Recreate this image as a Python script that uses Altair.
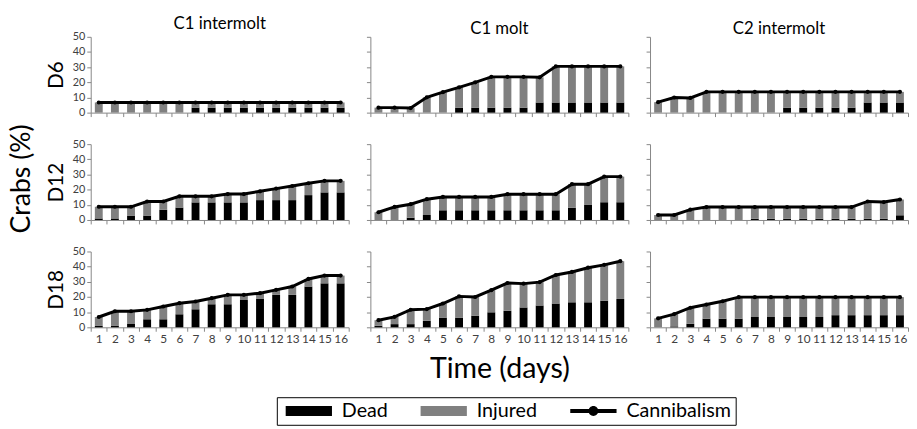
import altair as alt
import pandas as pd

days = list(range(1, 17))
row_labels = ["D6", "D12", "D18"]
col_labels = ["C1 intermolt", "C1 molt", "C2 intermolt"]
series_names = ["Dead", "Injured", "Cannibalism"]
y_ticks = [0, 10, 20, 30, 40, 50]

# ---- D6 ----
d6_c1i_dead = [0, 0, 0, 0, 0, 0, 3.3, 3.3, 3.3, 3.3, 3.3, 3.3, 3.3, 3.3, 3.3, 3.3]
d6_c1i_inj = [6.7, 6.7, 6.7, 6.7, 6.7, 6.7, 3.4, 3.4, 3.4, 3.4, 3.4, 3.4, 3.4, 3.4, 3.4, 3.4]
d6_c1i_can = [6.7, 6.7, 6.7, 6.7, 6.7, 6.7, 6.7, 6.7, 6.7, 6.7, 6.7, 6.7, 6.7, 6.7, 6.7, 6.7]

d6_c1m_dead = [0, 0, 0, 0, 0, 3.3, 3.3, 3.3, 3.3, 3.3, 6.7, 6.7, 6.7, 6.7, 6.7, 6.7]
d6_c1m_inj = [3.3, 3.3, 3.0, 10.1, 13.5, 13.4, 16.7, 20.3, 20.3, 20.3, 16.6, 23.8, 23.8, 23.8, 23.8, 23.8]
d6_c1m_can = [3.3, 3.3, 3.0, 10.1, 13.5, 16.7, 20.0, 23.6, 23.6, 23.6, 23.3, 30.5, 30.5, 30.5, 30.5, 30.5]

d6_c2i_dead = [0, 0, 0, 0, 0, 0, 0, 0, 3.3, 3.3, 3.3, 3.3, 3.3, 6.7, 6.7, 6.7]
d6_c2i_inj = [6.9, 10.0, 9.7, 13.7, 13.7, 13.7, 13.7, 13.7, 10.4, 10.4, 10.4, 10.4, 10.4, 7.0, 7.0, 7.0]
d6_c2i_can = [6.9, 10.0, 9.7, 13.7, 13.7, 13.7, 13.7, 13.7, 13.7, 13.7, 13.7, 13.7, 13.7, 13.7, 13.7, 13.7]

# ---- D12 ----
d12_c1i_dead = [1.0, 1.0, 2.9, 2.9, 6.7, 8.2, 11.6, 11.6, 11.6, 11.6, 13.1, 13.1, 13.1, 16.4, 18.2, 18.2]
d12_c1i_inj = [7.7, 7.7, 5.8, 9.3, 5.5, 7.4, 4.0, 4.0, 5.5, 5.5, 5.8, 7.6, 9.3, 7.8, 7.6, 7.6]
d12_c1i_can = [8.7, 8.7, 8.7, 12.2, 12.2, 15.6, 15.6, 15.6, 17.1, 17.1, 18.9, 20.7, 22.4, 24.2, 25.8, 25.8]

d12_c1m_dead = [0, 0, 1.5, 3.3, 6.4, 6.4, 6.4, 6.4, 6.4, 6.4, 6.4, 6.4, 8.1, 9.9, 11.7, 11.7]
d12_c1m_inj = [5.1, 8.6, 8.9, 10.4, 8.8, 8.8, 8.8, 8.8, 10.6, 10.6, 10.6, 10.6, 15.5, 13.7, 16.9, 16.9]
d12_c1m_can = [5.1, 8.6, 10.4, 13.7, 15.2, 15.2, 15.2, 15.2, 17.0, 17.0, 17.0, 17.0, 23.6, 23.6, 28.6, 28.6]

d12_c2i_dead = [0, 0, 0, 0, 0, 0, 0.8, 0.8, 0.8, 0.8, 0.8, 0.8, 0.8, 0.8, 0.8, 3.1]
d12_c2i_inj = [3.3, 3.3, 6.8, 8.5, 8.5, 8.5, 7.7, 7.7, 7.7, 7.7, 7.7, 7.7, 7.7, 11.4, 11.0, 10.4]
d12_c2i_can = [3.3, 3.3, 6.8, 8.5, 8.5, 8.5, 8.5, 8.5, 8.5, 8.5, 8.5, 8.5, 8.5, 12.2, 11.8, 13.5]

# ---- D18 ----
d18_c1i_dead = [0.9, 0.9, 2.2, 5.3, 5.3, 8.6, 11.9, 15.2, 15.2, 18.0, 18.7, 21.4, 21.4, 26.9, 29.0, 29.0]
d18_c1i_inj = [5.9, 9.7, 8.4, 6.2, 8.4, 7.3, 5.1, 4.0, 6.2, 3.4, 3.8, 3.3, 5.5, 5.0, 5.1, 5.1]
d18_c1i_can = [6.8, 10.6, 10.6, 11.5, 13.7, 15.9, 17.0, 19.2, 21.4, 21.4, 22.5, 24.7, 26.9, 31.9, 34.1, 34.1]

d18_c1m_dead = [1.0, 2.1, 2.1, 4.3, 6.4, 6.4, 7.7, 9.9, 10.9, 13.1, 14.4, 15.7, 16.5, 16.5, 17.6, 18.7]
d18_c1m_inj = [3.7, 4.8, 9.5, 7.7, 9.3, 14.0, 12.3, 14.6, 18.3, 15.7, 15.4, 18.8, 20.0, 22.8, 23.6, 24.9]
d18_c1m_can = [4.7, 6.9, 11.6, 12.0, 15.7, 20.4, 20.0, 24.5, 29.2, 28.8, 29.8, 34.5, 36.5, 39.3, 41.2, 43.6]

d18_c2i_dead = [0, 0.6, 2.3, 5.7, 5.7, 5.7, 6.8, 6.8, 6.8, 6.8, 6.8, 8.0, 8.0, 8.0, 8.0, 8.0]
d18_c2i_inj = [5.9, 8.1, 10.6, 9.3, 11.5, 14.2, 13.1, 13.1, 13.1, 13.1, 13.1, 11.9, 11.9, 11.9, 11.9, 11.9]
d18_c2i_can = [5.9, 8.7, 12.9, 15.0, 17.2, 19.9, 19.9, 19.9, 19.9, 19.9, 19.9, 19.9, 19.9, 19.9, 19.9, 19.9]

panels = {
    ("D6", "C1 intermolt"): (d6_c1i_dead, d6_c1i_inj, d6_c1i_can),
    ("D6", "C1 molt"): (d6_c1m_dead, d6_c1m_inj, d6_c1m_can),
    ("D6", "C2 intermolt"): (d6_c2i_dead, d6_c2i_inj, d6_c2i_can),
    ("D12", "C1 intermolt"): (d12_c1i_dead, d12_c1i_inj, d12_c1i_can),
    ("D12", "C1 molt"): (d12_c1m_dead, d12_c1m_inj, d12_c1m_can),
    ("D12", "C2 intermolt"): (d12_c2i_dead, d12_c2i_inj, d12_c2i_can),
    ("D18", "C1 intermolt"): (d18_c1i_dead, d18_c1i_inj, d18_c1i_can),
    ("D18", "C1 molt"): (d18_c1m_dead, d18_c1m_inj, d18_c1m_can),
    ("D18", "C2 intermolt"): (d18_c2i_dead, d18_c2i_inj, d18_c2i_can),
}

records = []
for (r, c), (dead, inj, can) in panels.items():
    for i, d in enumerate(days):
        records.append({"row": r, "col": c, "day": d,
                        "Dead": dead[i], "Injured": inj[i], "Cannibalism": can[i]})
df = pd.DataFrame(records)

FONT = "Lato"
color_scale = alt.Scale(domain=series_names, range=["#000000", "#808080", "#000000"])
# legend glyphs: wide swatch / thick line with a dot (units of 5 px)
rect_path = "M-1,-1H8.4V1H-1Z"
line_path = ("M-1,-0.4H8.4V0.4H-1Z "
             "M4.7,0A1,1 0 1,1 2.7,0A1,1 0 1,1 4.7,0Z")
shape_scale = alt.Scale(domain=series_names, range=[rect_path, rect_path, line_path])

legend_def = alt.Legend(
    title=None, orient="none", legendX=189, legendY=366, direction="horizontal",
    strokeColor="black", padding=4, symbolSize=100,
    symbolStrokeWidth=0, labelFontSize=20, labelFont=FONT, labelColor="black",
    labelOffset=42, columnPadding=28, symbolOpacity=1,
)

W, H = 262, 77


def panel(r, c, first_col, last_row, top_row, with_legend=False, xtitle=None):
    base = alt.Chart(df).transform_filter(
        (alt.datum.row == r) & (alt.datum.col == c))
    x_axis = alt.Axis(labels=last_row, labelAngle=0, tickBand="extent",
                      labelFontSize=12, title=xtitle, titleFontSize=29,
                      titleFontWeight="normal", titleFont=FONT, titleColor="black",
                      titlePadding=11)
    y_axis = alt.Axis(labels=first_col, values=y_ticks,
                      title=r if first_col else None, titleFontSize=21,
                      titleFontWeight="normal", titleFont=FONT, titleColor="black",
                      titlePadding=6, labelFontSize=11)
    xs = alt.Scale(domain=days, paddingInner=0, paddingOuter=0)
    ys = alt.Scale(domain=[0, 50])
    x = alt.X("day:O", scale=xs, axis=x_axis)

    bars = base.transform_fold(["Dead", "Injured"], as_=["series", "value"]).transform_calculate(
        ord="datum.series == 'Dead' ? 0 : 1"
    ).mark_bar(size=8).encode(
        x=x,
        y=alt.Y("value:Q", stack="zero", scale=ys, axis=y_axis),
        color=alt.Color("series:N", scale=color_scale, legend=legend_def),
        order=alt.Order("ord:Q"),
    )
    line = base.mark_line(color="black", strokeWidth=3).encode(
        x=x, y=alt.Y("Cannibalism:Q", scale=ys, axis=y_axis))
    pts = base.mark_point(filled=True, color="black", size=18, opacity=1).encode(
        x=x, y=alt.Y("Cannibalism:Q", scale=ys, axis=y_axis))
    layers = [bars, line, pts]
    if with_legend:
        leg = base.transform_filter("false").mark_point(filled=True, opacity=1).encode(
            color=alt.Color("series:N", scale=color_scale, legend=legend_def),
            shape=alt.Shape("series:N", scale=shape_scale, legend=legend_def),
        )
        layers.append(leg)
    props = dict(width=W, height=H)
    if top_row:
        props["title"] = alt.TitleParams(c, fontSize=17, fontWeight="normal", font=FONT,
                                         color="black", offset=-2)
    return alt.layer(*layers).properties(**props)


rows = []
for ri, r in enumerate(row_labels):
    cells = []
    for ci, c in enumerate(col_labels):
        last = ri == len(row_labels) - 1
        cells.append(panel(r, c, first_col=(ci == 0), last_row=last, top_row=(ri == 0),
                           with_legend=(last and ci == 1),
                           xtitle="Time (days)" if (last and ci == 1) else None))
    rows.append(alt.hconcat(*cells, spacing=22, bounds="flush"))

chart = alt.vconcat(*rows, spacing=21).properties(
    title=alt.TitleParams("Crabs (%)", orient="left", anchor="middle", fontSize=27,
                          fontWeight="normal", font=FONT, color="black", offset=10,
                          dx=42),
    padding={"left": 0, "top": 4, "right": 0, "bottom": 0},
).configure_view(stroke=None).configure_axis(
    grid=False, domainColor="#868686", tickColor="#868686", tickSize=4,
    labelColor="#404040", labelFont=FONT, labelPadding=2,
).configure_legend(strokeWidth=1)

chart.save("out.html", embed_options={"renderer": "svg", "actions": False})
